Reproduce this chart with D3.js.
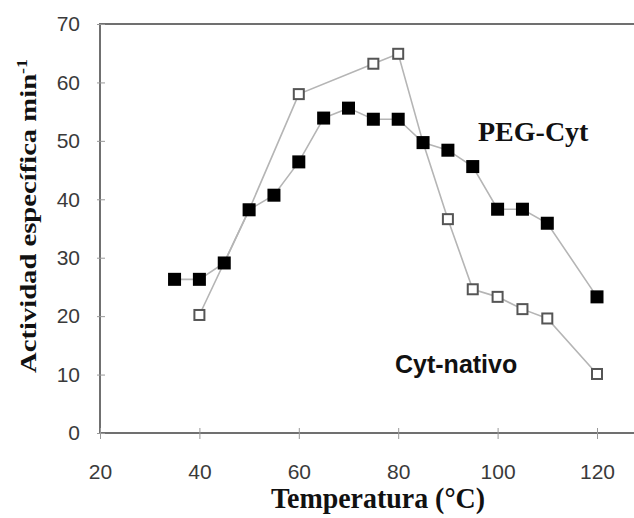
<!DOCTYPE html>
<html>
<head>
<meta charset="utf-8">
<script src="https://cdn.jsdelivr.net/npm/d3@7"></script>
<style>
  html, body { margin: 0; padding: 0; background: #fff; }
  svg { display: block; }
</style>
</head>
<body>
<svg id="chart" width="634" height="518"></svg>
<script>
// ---- data ----
const pegTemp = [35, 40, 45, 50, 55, 60, 65, 70, 75, 80, 85, 90, 95, 100, 105, 110, 120];
const pegAct  = [26.3, 26.3, 29.1, 38.2, 40.7, 46.4, 53.9, 55.6, 53.7, 53.7, 49.7, 48.4, 45.6, 38.3, 38.3, 35.9, 23.3];
const natTemp = [40, 50, 60, 75, 80, 85, 90, 95, 100, 105, 110, 120];
const natAct  = [20.2, 38.2, 58.0, 63.2, 64.9, 49.7, 36.6, 24.6, 23.3, 21.2, 19.6, 10.1];
const xTicks = [20, 40, 60, 80, 100, 120];
const yTicks = [0, 10, 20, 30, 40, 50, 60, 70];

const svg = d3.select("#chart");
const x = d3.scaleLinear().domain([20, 120]).range([100, 597]);
const y = d3.scaleLinear().domain([0, 70]).range([433, 24]);
const xEnd = 634;

const axisColor = "#707070";
// frame lines
svg.append("line").attr("x1", x(20)).attr("x2", x(20)).attr("y1", y(70)).attr("y2", y(0))
  .attr("stroke", axisColor).attr("stroke-width", 2);
svg.append("line").attr("x1", x(20) - 1).attr("x2", xEnd).attr("y1", y(0)).attr("y2", y(0))
  .attr("stroke", axisColor).attr("stroke-width", 2);
svg.append("line").attr("x1", x(20) - 1).attr("x2", xEnd).attr("y1", y(70)).attr("y2", y(70))
  .attr("stroke", axisColor).attr("stroke-width", 2);

// y axis ticks & labels
const yAxis = d3.axisLeft(y).tickValues(yTicks).tickSize(0).tickPadding(20);
const gy = svg.append("g").attr("transform", `translate(${x(20)},0)`).call(yAxis);
gy.select(".domain").remove();
gy.selectAll(".tick text").attr("font-family", "Liberation Sans, Arial, sans-serif")
  .attr("font-size", 21).attr("fill", "#3a3a3a");
gy.selectAll(".tick").append("line").attr("x1", -3).attr("x2", 5).attr("stroke", "#999").attr("stroke-width", 1);

// x axis ticks & labels
const xAxis = d3.axisBottom(x).tickValues(xTicks).tickSize(0).tickPadding(46);
const gx = svg.append("g").attr("transform", `translate(0,${y(0)})`).call(xAxis);
gx.select(".domain").remove();
gx.selectAll(".tick text").attr("font-family", "Liberation Sans, Arial, sans-serif")
  .attr("font-size", 21).attr("fill", "#3a3a3a").attr("dy", "0");
gx.selectAll(".tick").append("line").attr("y1", -5).attr("y2", 6).attr("stroke", "#999").attr("stroke-width", 1);

// lines
const lineGen = d3.line().x(d => x(d[0])).y(d => y(d[1]));
const pegData = pegTemp.map((t, i) => [t, pegAct[i]]);
const natData = natTemp.map((t, i) => [t, natAct[i]]);

svg.append("path").datum(natData).attr("d", lineGen)
  .attr("fill", "none").attr("stroke", "#b5b5b5").attr("stroke-width", 1.6);
svg.append("path").datum(pegData).attr("d", lineGen)
  .attr("fill", "none").attr("stroke", "#b5b5b5").attr("stroke-width", 1.6);

// open squares (native)
const so = 10;
svg.selectAll("rect.nat").data(natData).enter().append("rect").attr("class", "nat")
  .attr("x", d => x(d[0]) - so / 2).attr("y", d => y(d[1]) - so / 2)
  .attr("width", so).attr("height", so)
  .attr("fill", "#fff").attr("stroke", "#555").attr("stroke-width", 2);

// filled squares (PEG)
const sf = 13;
svg.selectAll("rect.peg").data(pegData).enter().append("rect").attr("class", "peg")
  .attr("x", d => x(d[0]) - sf / 2).attr("y", d => y(d[1]) - sf / 2)
  .attr("width", sf).attr("height", sf).attr("fill", "#000");

// series labels
svg.append("text").attr("x", 478).attr("y", 141)
  .attr("font-family", "Liberation Serif, Times New Roman, serif").attr("font-weight", "bold")
  .attr("font-size", 28).attr("fill", "#111").text("PEG-Cyt");
svg.append("text").attr("x", 395).attr("y", 373)
  .attr("font-family", "Liberation Sans, Arial, sans-serif").attr("font-weight", "bold")
  .attr("font-size", 25).attr("fill", "#111").text("Cyt-nativo");

// axis titles
const yt = svg.append("text")
  .attr("transform", "translate(36,216) rotate(-90)")
  .attr("text-anchor", "middle")
  .attr("font-family", "Liberation Serif, Times New Roman, serif").attr("font-weight", "bold")
  .attr("font-size", 24).attr("fill", "#111")
  .attr("textLength", 314).attr("lengthAdjust", "spacingAndGlyphs");
yt.append("tspan").text("Actividad específica min");
yt.append("tspan").attr("dy", -9).attr("font-size", 15).text("-1");

svg.append("text").attr("x", 378).attr("y", 508).attr("text-anchor", "middle")
  .attr("font-family", "Liberation Serif, Times New Roman, serif").attr("font-weight", "bold")
  .attr("font-size", 30).attr("fill", "#111")
  .attr("textLength", 214).attr("lengthAdjust", "spacingAndGlyphs")
  .text("Temperatura (°C)");
</script>
</body>
</html>
